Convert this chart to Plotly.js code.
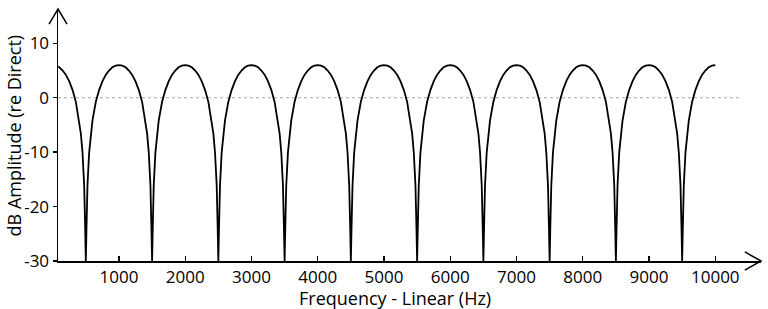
<!DOCTYPE html>
<html><head><meta charset="utf-8">
<script src="https://cdn.plot.ly/plotly-3.0.1.min.js"></script>
<style>html,body{margin:0;padding:0;background:#fff}#chart{width:768px;height:309px}</style>
</head><body><div id="chart"></div>
<script>
var freqHz = [
 80,100,150,200,250,300,350,400,425,450,475,490,
 500,510,525,550,575,600,650,700,750,800,850,900,950,1000,1050,1100,1150,1200,1250,1300,1350,1400,1425,1450,1475,1490,
 1500,1510,1525,1550,1575,1600,1650,1700,1750,1800,1850,1900,1950,2000,2050,2100,2150,2200,2250,2300,2350,2400,2425,2450,2475,2490,
 2500,2510,2525,2550,2575,2600,2650,2700,2750,2800,2850,2900,2950,3000,3050,3100,3150,3200,3250,3300,3350,3400,3425,3450,3475,3490,
 3500,3510,3525,3550,3575,3600,3650,3700,3750,3800,3850,3900,3950,4000,4050,4100,4150,4200,4250,4300,4350,4400,4425,4450,4475,4490,
 4500,4510,4525,4550,4575,4600,4650,4700,4750,4800,4850,4900,4950,5000,5050,5100,5150,5200,5250,5300,5350,5400,5425,5450,5475,5490,
 5500,5510,5525,5550,5575,5600,5650,5700,5750,5800,5850,5900,5950,6000,6050,6100,6150,6200,6250,6300,6350,6400,6425,6450,6475,6490,
 6500,6510,6525,6550,6575,6600,6650,6700,6750,6800,6850,6900,6950,7000,7050,7100,7150,7200,7250,7300,7350,7400,7425,7450,7475,7490,
 7500,7510,7525,7550,7575,7600,7650,7700,7750,7800,7850,7900,7950,8000,8050,8100,8150,8200,8250,8300,8350,8400,8425,8450,8475,8490,
 8500,8510,8525,8550,8575,8600,8650,8700,8750,8800,8850,8900,8950,9000,9050,9100,9150,9200,9250,9300,9350,9400,9425,9450,9475,9490,
 9500,9510,9525,9550,9575,9600,9650,9700,9750,9800,9850,9900,9950,10000
];
var ampDb = [
 5.7,5.6,5.0,4.2,3.0,1.4,-0.8,-4.2,-6.6,-10.1,-16.1,-24.0,
 -30,-24.0,-16.1,-10.1,-6.6,-4.2,-0.8,1.4,3.0,4.2,5.0,5.6,5.9,6.0,5.9,5.6,5.0,4.2,3.0,1.4,-0.8,-4.2,-6.6,-10.1,-16.1,-24.0,
 -30,-24.0,-16.1,-10.1,-6.6,-4.2,-0.8,1.4,3.0,4.2,5.0,5.6,5.9,6.0,5.9,5.6,5.0,4.2,3.0,1.4,-0.8,-4.2,-6.6,-10.1,-16.1,-24.0,
 -30,-24.0,-16.1,-10.1,-6.6,-4.2,-0.8,1.4,3.0,4.2,5.0,5.6,5.9,6.0,5.9,5.6,5.0,4.2,3.0,1.4,-0.8,-4.2,-6.6,-10.1,-16.1,-24.0,
 -30,-24.0,-16.1,-10.1,-6.6,-4.2,-0.8,1.4,3.0,4.2,5.0,5.6,5.9,6.0,5.9,5.6,5.0,4.2,3.0,1.4,-0.8,-4.2,-6.6,-10.1,-16.1,-24.0,
 -30,-24.0,-16.1,-10.1,-6.6,-4.2,-0.8,1.4,3.0,4.2,5.0,5.6,5.9,6.0,5.9,5.6,5.0,4.2,3.0,1.4,-0.8,-4.2,-6.6,-10.1,-16.1,-24.0,
 -30,-24.0,-16.1,-10.1,-6.6,-4.2,-0.8,1.4,3.0,4.2,5.0,5.6,5.9,6.0,5.9,5.6,5.0,4.2,3.0,1.4,-0.8,-4.2,-6.6,-10.1,-16.1,-24.0,
 -30,-24.0,-16.1,-10.1,-6.6,-4.2,-0.8,1.4,3.0,4.2,5.0,5.6,5.9,6.0,5.9,5.6,5.0,4.2,3.0,1.4,-0.8,-4.2,-6.6,-10.1,-16.1,-24.0,
 -30,-24.0,-16.1,-10.1,-6.6,-4.2,-0.8,1.4,3.0,4.2,5.0,5.6,5.9,6.0,5.9,5.6,5.0,4.2,3.0,1.4,-0.8,-4.2,-6.6,-10.1,-16.1,-24.0,
 -30,-24.0,-16.1,-10.1,-6.6,-4.2,-0.8,1.4,3.0,4.2,5.0,5.6,5.9,6.0,5.9,5.6,5.0,4.2,3.0,1.4,-0.8,-4.2,-6.6,-10.1,-16.1,-24.0,
 -30,-24.0,-16.1,-10.1,-6.6,-4.2,-0.8,1.4,3.0,4.2,5.0,5.6,5.9,6.0
];
var xTickVals = [1000,2000,3000,4000,5000,6000,7000,8000,9000,10000];
var xTickText = ['1000','2000','3000','4000','5000','6000','7000','8000','9000','10000'];
var yTickVals = [-30,-20,-10,0,10];
var yTickText = ['-30','-20','-10','0','10'];
var xTitle = 'Frequency - Linear (Hz)';
var yTitle = 'dB Amplitude (re Direct)';

var FONT = '"Open Sans", "Noto Sans", sans-serif';
var trace = {x: freqHz, y: ampDb, mode: 'lines', type: 'scatter',
  line: {color: '#000', width: 1.8}, hoverinfo: 'skip'};

var layout = {
  width: 768, height: 309,
  margin: {l: 58, r: 7, t: 9, b: 48, pad: 0},
  paper_bgcolor: '#fff', plot_bgcolor: '#fff',
  showlegend: false,
  font: {family: FONT, size: 17, color: '#000'},
  xaxis: {range: [80, 10690], showgrid: false, zeroline: false,
    showline: true, linecolor: '#000', linewidth: 1.5,
    tickvals: xTickVals, ticktext: xTickText, ticks: 'inside', ticklen: 5,
    tickcolor: '#000', tickwidth: 1.3, tickfont: {family: FONT, size: 17, color: '#000'}},
  yaxis: {range: [-30, 16.3], showgrid: false, zeroline: false,
    showline: true, linecolor: '#000', linewidth: 1.5,
    tickvals: yTickVals, ticktext: yTickText, ticks: 'outside', ticklen: 4,
    tickcolor: '#000', tickwidth: 1.3, tickfont: {family: FONT, size: 17, color: '#000'}},
  shapes: [
    {type: 'line', xref: 'x', yref: 'y', x0: 80, x1: 10400, y0: 0, y1: 0,
     line: {color: '#aaa', width: 1, dash: 'dot'}, layer: 'below'},
    {type: 'path', xref: 'paper', yref: 'paper',
     path: 'M 0.977,0.036 L 1,0 L 0.977,-0.036', line: {color: '#000', width: 1.5}},
    {type: 'path', xref: 'paper', yref: 'paper',
     path: 'M -0.0128,0.94 L 0,1 L 0.0128,0.94', line: {color: '#000', width: 1.5}}
  ],
  annotations: [
    {text: xTitle, xref: 'paper', yref: 'paper', x: 0.479, y: -0.148,
     xanchor: 'center', yanchor: 'middle', showarrow: false,
     font: {family: FONT, size: 18, color: '#000'}},
    {text: yTitle, xref: 'paper', yref: 'paper', x: -0.062, y: 0.5,
     xanchor: 'center', yanchor: 'middle', showarrow: false, textangle: -90,
     font: {family: FONT, size: 18, color: '#000'}}
  ]
};
Plotly.newPlot('chart', [trace], layout, {staticPlot: true, displayModeBar: false});
</script></body></html>
